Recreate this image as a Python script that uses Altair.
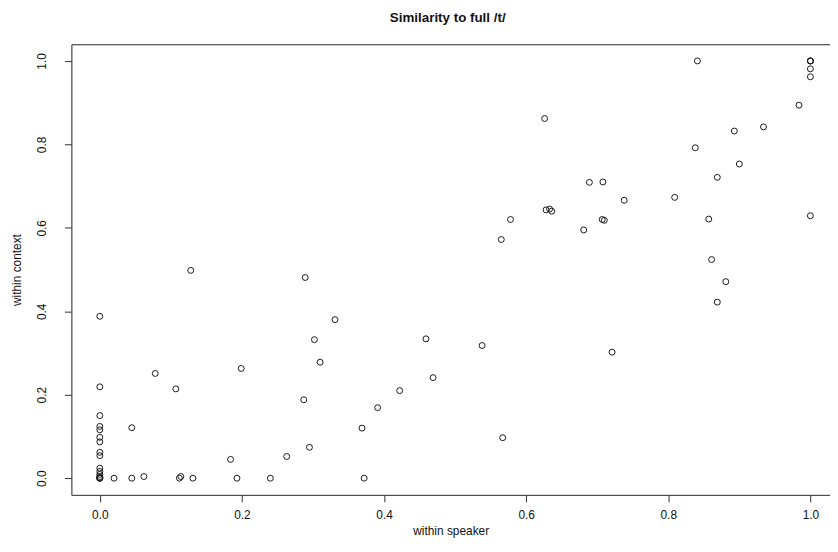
import altair as alt
import pandas as pd

within_speaker = [
    0.0, 0.0, 0.0, 0.0, 0.0, 0.0, 0.0, 0.0, 0.0, 0.0, 0.0, 0.0, 0.0, 0.0, 0.0, 0.0, 0.0,
    0.020, 0.045, 0.062, 0.112, 0.114, 0.131, 0.193, 0.240, 0.372,
    0.045, 0.078, 0.107, 0.128, 0.184, 0.199, 0.263, 0.287, 0.289, 0.295, 0.302, 0.310,
    0.331, 0.369, 0.391, 0.422, 0.459, 0.469, 0.538, 0.565, 0.567, 0.578, 0.626, 0.628,
    0.633, 0.636, 0.681, 0.689, 0.707, 0.708, 0.710, 0.721, 0.738, 0.809, 0.838, 0.841,
    0.857, 0.861, 0.869, 0.869, 0.881, 0.893, 0.900, 0.934, 0.984,
    1.0, 1.0, 1.0, 1.0, 1.0, 1.0,
]
within_context = [
    0.388, 0.219, 0.150, 0.124, 0.116, 0.098, 0.087, 0.062, 0.054, 0.024, 0.016, 0.009,
    0.004, 0.001, 0.0, 0.0, 0.0,
    0.0, 0.0, 0.004, 0.0, 0.004, 0.0, 0.0, 0.0, 0.0,
    0.121, 0.251, 0.214, 0.498, 0.045, 0.263, 0.052, 0.188, 0.481, 0.074, 0.332, 0.278,
    0.380, 0.120, 0.169, 0.210, 0.334, 0.241, 0.318, 0.572, 0.097, 0.620, 0.862, 0.643,
    0.645, 0.640, 0.595, 0.709, 0.620, 0.710, 0.618, 0.302, 0.666, 0.673, 0.792, 1.0,
    0.621, 0.524, 0.721, 0.422, 0.471, 0.832, 0.753, 0.842, 0.894,
    1.0, 1.0, 1.0, 0.981, 0.962, 0.629,
]
tick_values = [0.0, 0.2, 0.4, 0.6, 0.8, 1.0]

df = pd.DataFrame({"ws": within_speaker, "wc": within_context})

W, H = 766, 455
FONT = "Liberation Sans"
xscale = alt.Scale(domain=[-0.04, 1.0276], nice=False, zero=False)
yscale = alt.Scale(domain=[-0.04, 1.04], nice=False, zero=False)

points = alt.Chart(df).mark_point(
    shape="circle", filled=False, size=36, stroke="#1a1a1a", strokeWidth=1, opacity=1, clip=True
).encode(
    x=alt.X("ws:Q", scale=xscale, axis=alt.Axis(
        values=tick_values, format=".1f", title="within speaker", grid=False,
        domainColor="#333", tickColor="#333", tickSize=7, labelPadding=13,
        labelBaseline="middle", labelFont=FONT, labelFontSize=12, labelColor="#111",
        titleFont=FONT, titleFontSize=12, titleFontWeight="normal", titleColor="#111",
        titleBaseline="middle", titleY=36, labelFlush=False)),
    y=alt.Y("wc:Q", scale=yscale, axis=alt.Axis(
        values=tick_values, format=".1f", title="within context", grid=False,
        domainColor="#333", tickColor="#333", tickSize=7, labelPadding=23,
        labelAngle=270, labelAlign="center", labelBaseline="middle",
        labelFont=FONT, labelFontSize=12, labelColor="#111",
        titleFont=FONT, titleFontSize=12, titleFontWeight="normal", titleColor="#111",
        titleAngle=270, titleBaseline="middle", titleX=-55, titleY=H / 2,
        titleAlign="center", labelFlush=False)),
)

frame_top = alt.Chart(df).mark_point(opacity=0).encode(
    x=alt.X("ws:Q", scale=xscale, axis=alt.Axis(
        orient="top", labels=False, ticks=False, title=None, grid=False,
        domain=True, domainColor="#333")),
    y=alt.Y("wc:Q", scale=yscale),
)

chart = alt.layer(points, frame_top).resolve_axis(x="independent").properties(
    width=W, height=H,
    autosize=alt.AutoSizeParams(type="none"),
    padding={"left": 64, "top": 34, "right": 0, "bottom": 47},
    title=alt.TitleParams("Similarity to full /t/", font=FONT, fontSize=13.5,
                          fontWeight="bold", color="#111", anchor="middle",
                          offset=6, dx=-3, baseline="bottom"),
).configure_view(stroke=None).configure(background="white")

chart.save("out.html", embed_options={"renderer": "svg", "actions": False})
